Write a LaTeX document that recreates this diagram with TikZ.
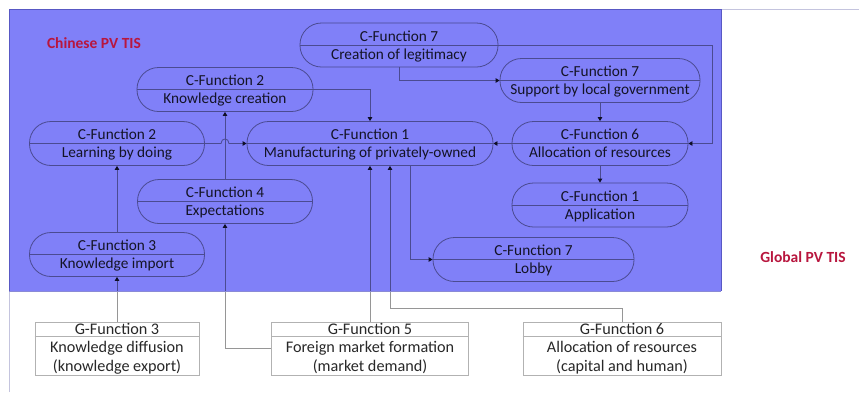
\documentclass[tikz,border=0pt]{standalone}
\usepackage{fontspec}
\setmainfont{Carlito}
\usetikzlibrary{arrows.meta,calc}

\definecolor{tisblue}{RGB}{128,128,248}
\definecolor{tisedge}{RGB}{88,88,196}
\definecolor{linegray}{RGB}{150,150,150}
\definecolor{boxgray}{RGB}{178,178,178}
\definecolor{tipcol}{RGB}{30,30,40}
\definecolor{txt}{RGB}{40,40,40}
\definecolor{labelred}{RGB}{184,22,62}
\definecolor{framecol}{RGB}{196,196,222}

% strut that keeps both lines of a function bubble close to its divider
\newcommand\cstrut{\rule[-4pt]{0pt}{18pt}}

\tikzset{
  cfn/.style={draw=linegray, line width=0.8pt, rounded corners=21.5pt,
    minimum height=44pt, inner sep=0pt, align=center, text=txt,
    font=\fontsize{15.3}{18}\selectfont},
  gfn/.style={draw=boxgray, line width=0.8pt, minimum height=53pt,
    inner sep=0pt, align=center, text=txt,
    font=\fontsize{16.2}{18.5}\selectfont},
  link/.style={draw=linegray, line width=0.8pt,
    -{Triangle[length=4pt,width=4.5pt,color=tipcol]}},
  plain/.style={draw=linegray, line width=0.8pt},
  tislabel/.style={text=labelred, font=\fontsize{15.5}{18}\selectfont\bfseries,
    inner sep=0pt}
}

% function bubble with a divider between its two lines
\newcommand\cfunc[5]{%
  \node[cfn, minimum width=#3] (#1) at (#2) {#4\cstrut\\#5\cstrut};
  \draw[linegray, line width=0.8pt] (#1.west) -- (#1.east);
}
% global function box: title strip above, description below
\newcommand\gfunc[6]{%
  \node[gfn, minimum width=#3] (#1) at (#2) {#4\\#5\\#6};
  \draw[boxgray, line width=0.8pt] ($(#1.north west)+(0,15)$) -- ($(#1.north east)+(0,15)$);
}

\begin{document}
\begin{tikzpicture}[x=1pt,y=-1pt]
\useasboundingbox (0,0) rectangle (859,392);
\fill[white] (0,0) rectangle (859,392);

% frame of the global system
\draw[framecol, line width=1pt] (9,392) -- (9,9.5) -- (859,9.5);

% Chinese system functions
\cfunc{leg}{399,45}{198pt}{C-Function 7}{Creation of legitimacy}
\cfunc{kc}{225,89.5}{176pt}{C-Function 2}{Knowledge creation}
\cfunc{sup}{600,80.5}{200pt}{C-Function 7}{Support by local government}
\cfunc{lbd}{117,143.5}{175pt}{C-Function 2}{Learning by doing}
\cfunc{man}{370,143.5}{246pt}{C-Function 1}{Manufacturing of privately-owned}
\cfunc{alloc}{600,143.5}{176pt}{C-Function 6}{Allocation of resources}
\cfunc{exp}{225,201.5}{175pt}{C-Function 4}{Expectations}
\cfunc{app}{600,205}{176pt}{C-Function 1}{Application}
\cfunc{kimp}{117,254.5}{175pt}{C-Function 3}{Knowledge import}
\cfunc{lobby}{533.5,259.5}{201pt}{C-Function 7}{Lobby}

% global system functions
\gfunc{gk}{117,348.5}{164pt}{G-Function 3}{Knowledge diffusion}{(knowledge export)}
\gfunc{gm}{370,348.5}{197pt}{G-Function 5}{Foreign market formation}{(market demand)}
\gfunc{gg}{622,348.5}{198pt}{G-Function 6}{Allocation of resources}{(capital and human)}

% turning points
\coordinate (rt) at (712,45);
\coordinate (ggturn) at (622,308);
\coordinate (hopa) at (221,143.5);
\coordinate (hopb) at (229,143.5);

% connectors
\draw[link] (gk.north) -- (kimp.south);
\draw[link] (kimp.north) -- (lbd.south);
\draw[link] (gm.west) -| (exp.south);
\draw[link] (exp.north) -- (kc.south);
\draw[link] (lbd.east) -- (hopa) .. controls (221,137.5) and (229,137.5) .. (hopb) -- (man.west);
\draw[link] (kc.east) -| (man.north);
\draw[link] (leg.south) |- (sup.west);
\draw[plain] (leg.east) -- (rt);
\draw[link] (rt) |- (alloc.east);
\draw[link] (sup.south) -- (alloc.north);
\draw[link] (alloc.west) -- (man.east);
\draw[link] (alloc.south) -- (app.north);
\draw[link] ($(man.south)+(40,0)$) |- (lobby.west);
\draw[link] (gm.north) -- (man.south);
\draw[plain] (gg.north) -- (ggturn);
\draw[link] (ggturn) -| ($(man.south)+(20,0)$);

% tint of the Chinese system
\begin{scope}[blend mode=multiply]
  \fill[tisblue] (9,9) rectangle (721,291);
\end{scope}
\draw[tisedge, line width=1pt] (9,291) -- (9,9) -- (721,9) -- (721,291);
\draw[tisedge!70, line width=0.6pt] (9,291) -- (721,291);

% system labels
\node[tislabel] (cn) at (94,43) {Chinese PV TIS};
\node[tislabel] (gl) at (803,257) {Global PV TIS};
\end{tikzpicture}
\end{document}
